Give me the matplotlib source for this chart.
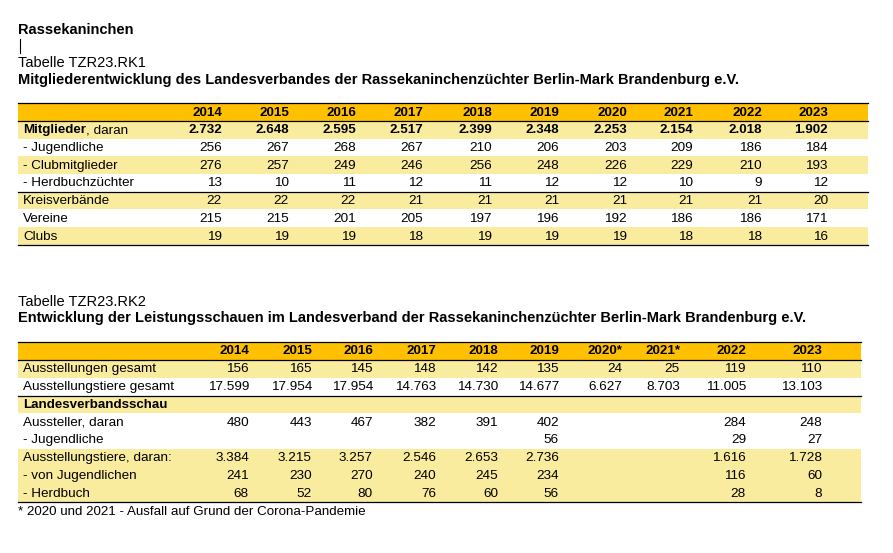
import matplotlib
matplotlib.use("Agg")
import matplotlib.pyplot as plt
from matplotlib.patches import Rectangle

plt.rcParams['font.family'] = ['Liberation Sans', 'DejaVu Sans']

# ---------------- data ----------------
years1 = ["2014", "2015", "2016", "2017", "2018", "2019", "2020", "2021", "2022", "2023"]
labels1 = ["Mitglieder", "- Jugendliche", "- Clubmitglieder", "- Herdbuchzüchter",
           "Kreisverbände", "Vereine", "Clubs"]
mitglieder = [2732, 2648, 2595, 2517, 2399, 2348, 2253, 2154, 2018, 1902]
jugendliche1 = [256, 267, 268, 267, 210, 206, 203, 209, 186, 184]
clubmitglieder = [276, 257, 249, 246, 256, 248, 226, 229, 210, 193]
herdbuchzuechter = [13, 10, 11, 12, 11, 12, 12, 10, 9, 12]
kreisverbaende = [22, 22, 22, 21, 21, 21, 21, 21, 21, 20]
vereine = [215, 215, 201, 205, 197, 196, 192, 186, 186, 171]
clubs = [19, 19, 19, 18, 19, 19, 19, 18, 18, 16]

years2 = ["2014", "2015", "2016", "2017", "2018", "2019", "2020*", "2021*", "2022", "2023"]
labels2 = ["Ausstellungen gesamt", "Ausstellungstiere gesamt", "Landesverbandsschau",
           "Aussteller, daran", "- Jugendliche", "Ausstellungstiere, daran:",
           "- von Jugendlichen", "- Herdbuch"]
ausstellungen = [156, 165, 145, 148, 142, 135, 24, 25, 119, 110]
tiere_gesamt = [17599, 17954, 17954, 14763, 14730, 14677, 6627, 8703, 11005, 13103]
landesverbandsschau = [None] * 10
aussteller = [480, 443, 467, 382, 391, 402, None, None, 284, 248]
jugendliche2 = [None, None, None, None, None, 56, None, None, 29, 27]
tiere_daran = [3384, 3215, 3257, 2546, 2653, 2736, None, None, 1616, 1728]
von_jugendlichen = [241, 230, 270, 240, 245, 234, None, None, 116, 60]
herdbuch = [68, 52, 80, 76, 60, 56, None, None, 28, 8]

# ---------------- layout ----------------
ORANGE = "#FFC000"
YELLOW = "#FAEC9E"
FS_REG = 9.7
FS_BOLD = 9.6
FS_TITLE = 10.5

fig = plt.figure(figsize=(8.93, 5.53), dpi=100)
ax = fig.add_axes([0, 0, 1, 1])
ax.set_xlim(0, 893)
ax.set_ylim(553, 0)
ax.axis("off")


def fmt(v):
    if v is None:
        return ""
    return f"{v:,}".replace(",", ".")


def draw_table(x0, x1, top, head_h, row_h, years, col_right, rows, fills, lines_after,
               bold_rows, first_bold_part=None):
    # header
    ax.add_patch(Rectangle((x0, top), x1 - x0, head_h, color=ORANGE, lw=0))
    for yr, xr in zip(years, col_right):
        ax.text(xr, top + head_h / 2 + 0.5, yr, ha="right", va="center",
                fontsize=FS_BOLD, fontweight="bold")
    y = top + head_h
    for i, (label, vals) in enumerate(rows):
        if fills[i]:
            ax.add_patch(Rectangle((x0, y), x1 - x0, row_h, color=YELLOW, lw=0))
        yc = y + row_h / 2 + 0.5
        bold = i in bold_rows
        if first_bold_part is not None and i == first_bold_part[0]:
            t = ax.text(x0 + 5, yc, first_bold_part[1], ha="left", va="center",
                        fontsize=FS_BOLD, fontweight="bold")
            ax.annotate(first_bold_part[2], xy=(1, 0.5), xycoords=t,
                        ha="left", va="center", fontsize=FS_REG)
        else:
            ax.text(x0 + 5, yc, label, ha="left", va="center",
                    fontsize=FS_BOLD if bold else FS_REG,
                    fontweight="bold" if bold else "normal")
        for v, xr in zip(vals, col_right):
            ax.text(xr, yc, fmt(v), ha="right", va="center",
                    fontsize=FS_BOLD if bold else FS_REG,
                    fontweight="bold" if bold else "normal")
        y += row_h
    # lines
    ax.plot([x0, x1], [top, top], color="black", lw=0.9)
    ax.plot([x0, x1], [top + head_h, top + head_h], color="black", lw=0.9)
    for k in lines_after:
        yy = top + head_h + row_h * (k + 1)
        ax.plot([x0, x1], [yy, yy], color="black", lw=0.9)


# titles
ax.text(18, 30, "Rassekaninchen", ha="left", va="center", fontsize=FS_TITLE, fontweight="bold")
ax.plot([19.5, 19.5], [39, 53], color="black", lw=0.8)
ax.text(18, 63, "Tabelle TZR23.RK1", ha="left", va="center", fontsize=FS_TITLE)
ax.text(18, 80, "Mitgliederentwicklung des Landesverbandes der Rassekaninchenzüchter "
        "Berlin-Mark Brandenburg e.V.", ha="left", va="center", fontsize=FS_TITLE,
        fontweight="bold")

rows1 = list(zip(labels1, [mitglieder, jugendliche1, clubmitglieder, herdbuchzuechter,
                           kreisverbaende, vereine, clubs]))
col1 = [222, 289, 356, 423, 492, 559, 627, 693, 762, 828]
draw_table(18, 868, 103, 18, 17.7, years1, col1, rows1,
           [True, False, True, False, True, False, True], [3, 6], {0},
           first_bold_part=(0, "Mitglieder", ", daran"))

ax.text(18, 302, "Tabelle TZR23.RK2", ha="left", va="center", fontsize=FS_TITLE)
ax.text(18, 318, "Entwicklung der Leistungsschauen im Landesverband der Rassekaninchenzüchter "
        "Berlin-Mark Brandenburg e.V.", ha="left", va="center", fontsize=FS_TITLE,
        fontweight="bold")

rows2 = list(zip(labels2, [ausstellungen, tiere_gesamt, landesverbandsschau, aussteller,
                           jugendliche2, tiere_daran, von_jugendlichen, herdbuch]))
col2 = [249, 312, 373, 436, 498, 559, 622, 680, 746, 822]
draw_table(18, 861, 342, 18, 17.75, years2, col2, rows2,
           [True, False, True, False, False, True, True, True], [1, 7], {2})

ax.text(18, 512, "* 2020 und 2021 - Ausfall auf Grund der Corona-Pandemie",
        ha="left", va="center", fontsize=9.6)

fig.savefig("out.png", dpi=100)
